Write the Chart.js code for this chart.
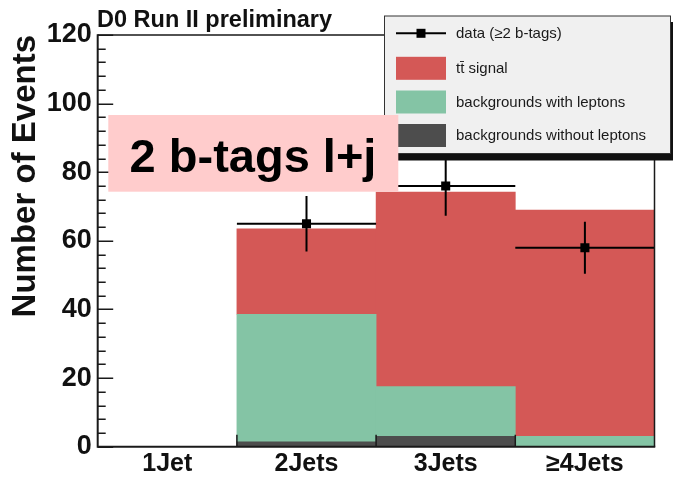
<!DOCTYPE html>
<html>
<head>
<meta charset="utf-8">
<title>D0 Run II preliminary – 2 b-tags l+j</title>
<script src="https://cdn.jsdelivr.net/npm/chart.js@4"></script>
<style>
  html, body { margin: 0; padding: 0; background: #ffffff; }
  #wrap { width: 673px; height: 477px; }
</style>
</head>
<body>
<div id="wrap"><canvas id="c" width="673" height="477"></canvas></div>
<script>
// Jet-multiplicity bins
const categories = ['1Jet', '2Jets', '3Jets', '≥4Jets'];

// Stacked predictions (events per bin), bottom to top
const bkgNoLeptons = [0, 1.4, 3.0, 0];
const bkgLeptons   = [0, 37.2, 14.5, 3.0];
const ttSignal     = [0, 24.9, 56.7, 66.0];

// Observed events with ≥2 b-tags and their statistical errors
const dataCounts = [null, 65, 76, 58];
const dataErrors = [null, 8.1, 8.7, 7.6];

// Y axis range and labels
const yMin = 0;
const yMax = 120;
const yMajorStep = 20;
const yMinorStep = 4;

const COLORS = {
  signal: '#d45856',
  lep: '#84c4a5',
  nolep: '#4d4d4d',
  frame: '#1a1a1a'
};
const FONT = '"Liberation Sans", Arial, Helvetica, sans-serif';

// Frame, inward tick marks, error bars
const rootStyle = {
  id: 'rootStyle',
  afterDatasetsDraw(chart) {
    const { ctx, chartArea: a, scales: { x, y } } = chart;
    ctx.save();

    // error bars of the data points
    const half = (x.getPixelForValue(1) - x.getPixelForValue(0)) / 2;
    ctx.strokeStyle = '#000';
    ctx.lineWidth = 2;
    dataCounts.forEach((v, i) => {
      if (v === null) return;
      const px = x.getPixelForValue(i);
      const py = y.getPixelForValue(v);
      ctx.beginPath();
      ctx.moveTo(px - half, py);
      ctx.lineTo(px + half, py);
      ctx.moveTo(px, y.getPixelForValue(v + dataErrors[i]));
      ctx.lineTo(px, y.getPixelForValue(v - dataErrors[i]));
      ctx.stroke();
    });

    // frame
    ctx.strokeStyle = COLORS.frame;
    ctx.lineWidth = 1.5;
    ctx.beginPath();
    ctx.moveTo(a.left, a.top);
    ctx.lineTo(a.right, a.top);
    ctx.lineTo(a.right, a.bottom);
    ctx.stroke();
    ctx.lineWidth = 2;
    ctx.beginPath();
    ctx.moveTo(a.left, a.top - 0.75);
    ctx.lineTo(a.left, a.bottom);
    ctx.lineTo(a.right + 0.75, a.bottom);
    ctx.stroke();

    // y ticks pointing into the plot
    ctx.lineWidth = 1.5;
    ctx.beginPath();
    for (let v = yMin; v <= yMax; v += yMinorStep) {
      const py = Math.round(y.getPixelForValue(v)) + 0.25;
      const len = (v % yMajorStep === 0) ? 15.5 : 8;
      ctx.moveTo(a.left, py);
      ctx.lineTo(a.left + len, py);
    }
    // x ticks at the bin edges
    for (let i = 1; i < categories.length; i++) {
      const px = (x.getPixelForValue(i - 1) + x.getPixelForValue(i)) / 2;
      ctx.moveTo(px, a.bottom);
      ctx.lineTo(px, a.bottom - 12);
    }
    ctx.stroke();
    ctx.restore();
  },
  afterDraw(chart) {
    const { ctx } = chart;
    ctx.save();

    // experiment label
    ctx.fillStyle = '#111';
    ctx.font = 'bold 23.5px ' + FONT;
    ctx.textBaseline = 'alphabetic';
    ctx.textAlign = 'left';
    ctx.fillText('D0 Run II preliminary', 97, 27);

    // legend box with its shadow
    const lx = 384.5, ly = 16, lw = 286, lh = 137.5;
    ctx.fillStyle = '#111';
    ctx.fillRect(lx + 6, ly + lh, lw + 10, 7);
    ctx.fillRect(lx + lw, ly + 6, 10, lh);
    ctx.fillStyle = '#f0f0f0';
    ctx.fillRect(lx, ly, lw, lh);
    ctx.strokeStyle = '#333';
    ctx.lineWidth = 1;
    ctx.strokeRect(lx, ly, lw, lh);

    const ds = chart.data.datasets;
    const entries = [ds[3], ds[2], ds[1], ds[0]];
    const rowsY = [33.3, 68.3, 102, 135.5];
    const sx0 = 396, sx1 = 446;
    ctx.font = '15px ' + FONT;
    ctx.textBaseline = 'middle';
    entries.forEach((d, k) => {
      const cy = rowsY[k];
      if (d.type === 'line') {
        ctx.strokeStyle = '#000';
        ctx.lineWidth = 2;
        ctx.beginPath();
        ctx.moveTo(sx0, cy);
        ctx.lineTo(sx1, cy);
        ctx.stroke();
        ctx.fillStyle = '#000';
        ctx.fillRect(416.5, cy - 4.5, 9, 9);
      } else {
        ctx.fillStyle = d.backgroundColor;
        ctx.fillRect(sx0, cy - 11.5, sx1 - sx0, 23);
      }
      ctx.fillStyle = '#1a1a1a';
      ctx.fillText(d.label, 456, cy + 0.5);
    });

    // channel label
    ctx.fillStyle = '#ffcccc';
    ctx.fillRect(108.3, 115, 290, 76.7);
    ctx.fillStyle = '#000';
    ctx.font = 'bold 47px ' + FONT;
    ctx.textAlign = 'center';
    ctx.textBaseline = 'alphabetic';
    ctx.fillText('2 b-tags l+j', 253, 171.5);
    ctx.restore();
  }
};

new Chart(document.getElementById('c'), {
  data: {
    labels: categories,
    datasets: [
      { type: 'bar', label: 'backgrounds without leptons', data: bkgNoLeptons,
        backgroundColor: COLORS.nolep, stack: 'pred', order: 1 },
      { type: 'bar', label: 'backgrounds with leptons', data: bkgLeptons,
        backgroundColor: COLORS.lep, stack: 'pred', order: 1 },
      { type: 'bar', label: 'tt\u0304 signal', data: ttSignal,
        backgroundColor: COLORS.signal, stack: 'pred', order: 1 },
      { type: 'line', label: 'data (≥2 b-tags)', data: dataCounts, stack: 'obs', order: 0,
        showLine: false, pointStyle: 'rect', pointRadius: 6.4, pointHoverRadius: 6.4,
        pointBackgroundColor: '#000', pointBorderColor: '#000', pointBorderWidth: 0 }
    ]
  },
  options: {
    responsive: false,
    animation: false,
    events: [],
    datasets: { bar: { barPercentage: 1, categoryPercentage: 1, borderWidth: 0 } },
    layout: { padding: { top: 35, right: 18.5, left: 0, bottom: 0 } },
    plugins: { legend: { display: false }, tooltip: { enabled: false }, title: { display: false } },
    scales: {
      x: {
        stacked: true,
        offset: true,
        grid: { display: false, drawTicks: false },
        border: { display: false },
        ticks: { color: '#111', padding: 2, font: { family: FONT, size: 25, weight: 'bold' } },
        afterFit(s) { s.height = 30.3; }
      },
      y: {
        stacked: true,
        min: yMin,
        max: yMax,
        grid: { display: false, drawTicks: false },
        border: { display: false },
        ticks: { stepSize: yMajorStep, color: '#111', padding: 6,
                 font: { family: FONT, size: 27, weight: 'bold' } },
        title: { display: true, text: 'Number of Events', align: 'end', color: '#111',
                 padding: { top: 6, bottom: 0 },
                 font: { family: FONT, size: 33, weight: 'bold' } },
        afterFit(s) { s.width = 97.7; }
      }
    }
  },
  plugins: [rootStyle]
});
</script>
</body>
</html>
